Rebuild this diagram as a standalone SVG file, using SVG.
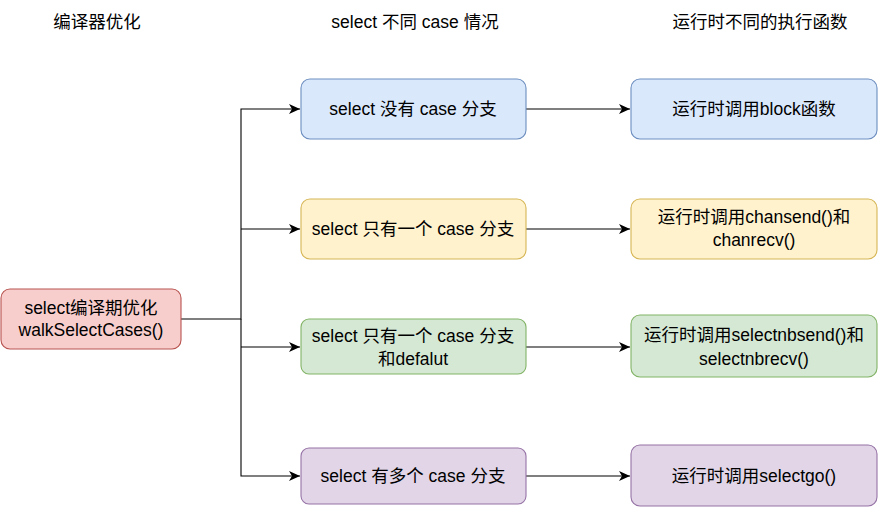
<svg xmlns="http://www.w3.org/2000/svg" width="881" height="507" viewBox="0 0 881 507">
<defs>
<style>
text{font-family:"Liberation Sans","Noto Sans CJK SC",sans-serif;font-size:17.5px;fill:#000;text-anchor:middle}
.n{stroke-width:1.1}
.blue{fill:#dae8fc;stroke:#6c8ebf}
.yellow{fill:#fff2cc;stroke:#d6b656}
.green{fill:#d5e8d4;stroke:#82b366}
.purple{fill:#e1d5e7;stroke:#9673a6}
.red{fill:#f8cecc;stroke:#b85450}
.c{fill:none;stroke:#000;stroke-width:1.1}
</style>
<marker id="arr" markerWidth="12" markerHeight="12" refX="11" refY="5.5" orient="auto" markerUnits="userSpaceOnUse">
<path d="M0,0.5 L11,5.5 L0,10.5 L3,5.5 Z" fill="#000"/>
</marker>
</defs>
<rect width="881" height="507" fill="#fff"/>
<g id="headers">
<text x="97" y="27.5">编译器优化</text>
<text x="415" y="27.5">select 不同 case 情况</text>
<text x="760" y="27.5">运行时不同的执行函数</text>
</g>
<g id="connectors">
<path class="c" d="M181,319 H241 V109 H300" marker-end="url(#arr)"/>
<path class="c" d="M241,229 H300" marker-end="url(#arr)"/>
<path class="c" d="M241,347 H300" marker-end="url(#arr)"/>
<path class="c" d="M241,319 V476 H300" marker-end="url(#arr)"/>
<path class="c" d="M526,109 H630" marker-end="url(#arr)"/>
<path class="c" d="M526,229 H630" marker-end="url(#arr)"/>
<path class="c" d="M526,347 H630" marker-end="url(#arr)"/>
<path class="c" d="M526,476 H630" marker-end="url(#arr)"/>
</g>
<g id="compile">
<rect class="n red" x="1" y="289" width="180" height="60" rx="9"/>
<text x="91" y="314">select编译期优化</text>
<text x="91" y="336">walkSelectCases()</text>
</g>
<g id="case-none">
<rect class="n blue" x="301" y="79" width="225" height="60" rx="9"/>
<text x="413" y="115">select 没有 case 分支</text>
</g>
<g id="case-one">
<rect class="n yellow" x="301" y="199" width="225" height="60" rx="9"/>
<text x="413" y="235">select 只有一个 case 分支</text>
</g>
<g id="case-one-default">
<rect class="n green" x="301" y="319" width="225" height="55" rx="8"/>
<text x="413" y="342">select 只有一个 case 分支</text>
<text x="413" y="365">和defalut</text>
</g>
<g id="case-many">
<rect class="n purple" x="301" y="448" width="225" height="56" rx="8"/>
<text x="413" y="482">select 有多个 case 分支</text>
</g>
<g id="rt-block">
<rect class="n blue" x="631" y="79" width="246" height="60" rx="9"/>
<text x="754" y="115">运行时调用block函数</text>
</g>
<g id="rt-chan">
<rect class="n yellow" x="631" y="199" width="246" height="60" rx="9"/>
<text x="754" y="223">运行时调用chansend()和</text>
<text x="754" y="246">chanrecv()</text>
</g>
<g id="rt-selectnb">
<rect class="n green" x="631" y="315" width="246" height="62" rx="9"/>
<text x="754" y="341">运行时调用selectnbsend()和</text>
<text x="754" y="365">selectnbrecv()</text>
</g>
<g id="rt-selectgo">
<rect class="n purple" x="631" y="445" width="246" height="61" rx="9"/>
<text x="754" y="482">运行时调用selectgo()</text>
</g>
</svg>
